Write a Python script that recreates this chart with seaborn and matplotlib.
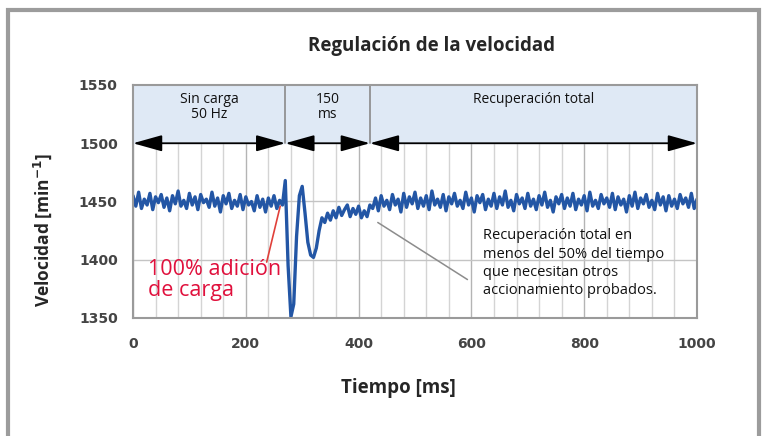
import numpy as np
import pandas as pd
import matplotlib
matplotlib.use("Agg")
import matplotlib.pyplot as plt
import matplotlib.patches as mpatches
import seaborn as sns

sns.set_theme(style="white")
plt.rcParams['font.family'] = ['Open Sans', 'DejaVu Sans']

# datos (cada 5 ms)
paso_ms = 5
vel_sin_carga = [1455, 1446, 1458, 1444, 1452, 1447, 1457, 1443, 1454, 1449,
                 1456, 1445, 1453, 1442, 1455, 1448, 1459, 1446, 1451, 1444,
                 1457, 1447, 1454, 1443, 1456, 1449, 1452, 1445, 1458, 1446,
                 1453, 1441, 1455, 1448, 1457, 1444, 1451, 1446, 1456, 1443,
                 1454, 1447, 1450, 1442, 1455, 1445, 1452, 1441, 1453, 1446,
                 1455, 1444, 1451, 1447]
vel_carga = [1468, 1395, 1351, 1362, 1420, 1455, 1463, 1440, 1415, 1404,
             1402, 1410, 1425, 1436, 1432, 1440, 1434, 1442, 1436, 1445,
             1438, 1443, 1447, 1437, 1444, 1439, 1446, 1436, 1442, 1437, 1447]
vel_recuperada = [1444, 1453, 1442, 1455, 1446, 1451, 1443, 1456, 1447, 1452,
                  1441, 1457, 1445, 1454, 1448, 1458, 1444, 1453, 1446, 1455,
                  1443, 1459, 1447, 1452, 1445, 1456, 1442, 1454, 1448, 1457,
                  1446, 1451, 1444, 1458, 1447, 1453, 1441, 1455, 1449, 1456,
                  1443, 1452, 1446, 1457, 1444, 1454, 1447, 1459, 1445, 1451,
                  1442, 1456, 1448, 1453, 1444, 1457, 1446, 1452, 1443, 1455,
                  1447, 1458, 1445, 1451, 1441, 1454, 1448, 1456, 1444, 1453,
                  1446, 1457, 1443, 1452, 1447, 1455, 1442, 1458, 1446, 1451,
                  1444, 1456, 1448, 1453, 1445, 1457, 1443, 1454, 1447, 1452,
                  1441, 1455, 1446, 1458, 1444, 1453, 1448, 1456, 1445, 1451,
                  1443, 1457, 1447, 1454, 1442, 1455, 1446, 1452, 1444, 1456,
                  1448, 1453, 1445, 1457, 1444, 1452]

fases = [0, 270, 420, 1000]  # limites de las fases en ms
fases_txt = ['Sin carga\n50 Hz', '150\nms', 'Recuperación total']
xticks = [0, 200, 400, 600, 800, 1000]
yticks = [1350, 1400, 1450, 1500, 1550]

velocidad = vel_sin_carga + vel_carga + vel_recuperada
df = pd.DataFrame({'tiempo': np.arange(len(velocidad)) * paso_ms, 'velocidad': velocidad})

fig = plt.figure(figsize=(7.69, 4.36), dpi=100)
ax = fig.add_axes([133/769, 1-318/436, (697-133)/769, (318-85)/436])

# marco gris de la figura
fig.patches.append(mpatches.Rectangle((8/769, -0.1), (759-8)/769, 1.1-10/436, transform=fig.transFigure,
                                      fill=False, edgecolor='#9c9c9c', linewidth=3))

# rejilla
for x in range(0, 1001, 40):
    ax.axvline(x, color='#b4b4b4' if x % 200 == 0 else '#d4d4d4', lw=1, zorder=0.5)
for y in [1400, 1450]:
    ax.axhline(y, color='#c4c4c4', lw=1, zorder=0.5)

# banda superior con las fases
ax.axhspan(1500, 1550, color='#dfe9f5', zorder=1)
for x in fases[1:-1]:
    ax.plot([x, x], [1500, 1550], color='#8a8a8a', lw=1.2, zorder=2)
for i in range(len(fases) - 1):
    ax.annotate('', xy=(fases[i+1], 1500), xytext=(fases[i], 1500),
                arrowprops=dict(arrowstyle='<|-|>,head_length=1.5,head_width=0.42',
                                color='black', lw=1.3, shrinkA=0, shrinkB=0), zorder=3)
    ax.text((fases[i] + fases[i+1]) / 2, 1544, fases_txt[i], ha='center', va='top',
            fontsize=10, color='#111111', linespacing=1.0, zorder=4)

sns.lineplot(data=df, x='tiempo', y='velocidad', color='#2356a5', lw=2.4, ax=ax, zorder=5)

# anotaciones
ax.plot([237, 261], [1398, 1446], color='#e0403a', lw=1.2, zorder=4)
ax.text(26, 1401, '100% adición\nde carga', color='#e0103c', fontsize=15.5, va='top',
        linespacing=1.0, zorder=6)
ax.plot([434, 593], [1432, 1383], color='#8c8c8c', lw=1.1, zorder=4)
ax.text(620, 1427, 'Recuperación total en\nmenos del 50% del tiempo\nque necesitan otros\naccionamiento probados.',
        fontsize=10.5, va='top', color='#111111', linespacing=1.3, zorder=6)

ax.set_xlim(0, 1000)
ax.set_ylim(1350, 1550)
ax.set_xticks(xticks)
ax.set_yticks(yticks)
ax.tick_params(length=0, labelsize=10, labelcolor='#444444')
ax.tick_params(axis='x', pad=14)
ax.tick_params(axis='y', pad=11)
for lab in ax.get_xticklabels() + ax.get_yticklabels():
    lab.set_fontfamily('DejaVu Sans')
    lab.set_fontweight('bold')
ax.set_xlabel('')
ax.set_ylabel('')
for s in ax.spines.values():
    s.set_color('#9a9a9a')
    s.set_linewidth(1.5)
    s.set_zorder(7)

fig.text(431/769, 1-46/436, 'Regulación de la velocidad', ha='center', va='center',
         fontsize=13.5, fontweight='bold')
fig.text(398/769, 1-388/436, 'Tiempo [ms]', ha='center', va='center', fontsize=13.5, fontweight='bold')
fig.text(43/769, 1-230/436, r'Velocidad [min$^{\mathbf{-1}}$]', ha='center', va='center',
         rotation=90, fontsize=12.5, fontweight='bold')

fig.savefig('out.png', dpi=100)
